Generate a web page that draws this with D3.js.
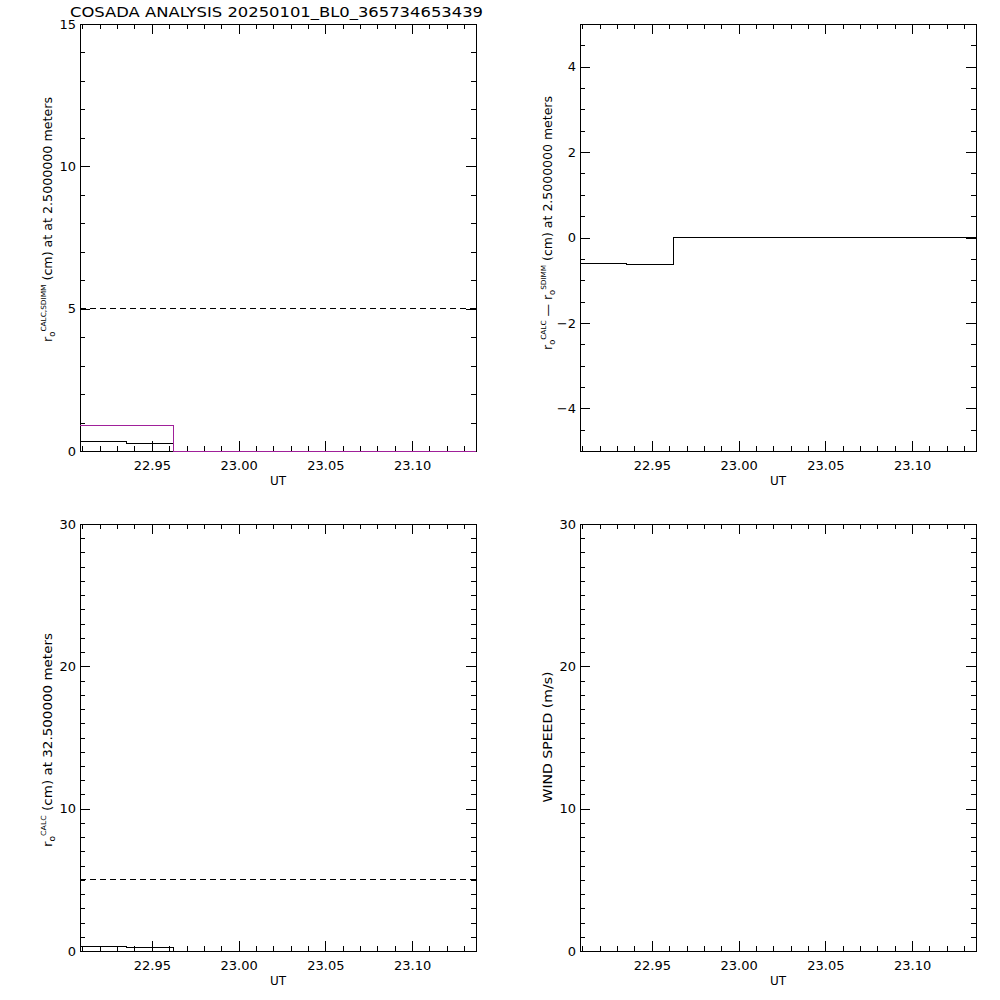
<!DOCTYPE html>
<html><head><meta charset="utf-8">
<script src="https://cdn.jsdelivr.net/npm/d3@7"></script>
<style>
body{margin:0;background:#fff}
text{font-family:"DejaVu Sans",sans-serif;fill:#000}
</style>
</head><body>
<svg id="chart" width="1000" height="1000"></svg>
<script>
// ---------- data ----------
const titleText = "COSADA ANALYSIS 20250101_BL0_365734653439";
const xDomain = [22.9086, 23.1368];
const xMajorTicks = [22.95, 23.00, 23.05, 23.10];
const xMinorStep = 0.01;
const binTimes = [22.9086, 22.9355, 22.9623, 23.1368];
const r0CalcLow  = [0.32, 0.27, 0, 0];     // black, 2.5 m
const r0SdimmLow = [0.90, 0.90, 0, 0];     // purple, SDIMM
const r0Diff     = [-0.62, -0.64, 0, 0];   // CALC - SDIMM
const r0CalcHigh = [0.33, 0.24, 0, 0];     // 32.5 m
const windSpeed  = [];                      // no wind data
const refLineLow = 5;
const refLineHigh = 5;
const yTicksTL = [0, 5, 10, 15];
const yTicksTR = [-4, -2, 0, 2, 4];
const yTicksBL = [0, 10, 20, 30];
const yTicksBR = [0, 10, 20, 30];

// ---------- layout ----------
const W = 396, H = 427;
const svg = d3.select("#chart");
svg.append("rect").attr("width",1000).attr("height",1000).attr("fill","#fff");

svg.append("text").attr("x",70).attr("y",17).attr("font-size",14)
  .attr("textLength",413).attr("lengthAdjust","spacingAndGlyphs").text(titleText);

const panels = [
  {x0:80,  y0:24,  yDom:[0,15],  yMaj:yTicksTL, yMin:1,
   series:[{v:r0CalcLow,c:"#000"},{v:r0SdimmLow,c:"#a0209a"}], ref:refLineLow,
   label:{x:52, y:97, anchor:"end", len:245,
     parts:[["r",0,12],["o",3,8],["CALC,SDIMM",-9,7],[" (cm)  at  at 2.5000000 meters",6,12]]}},
  {x0:580, y0:24,  yDom:[-5,5],  yMaj:yTicksTR, yMin:0.5,
   series:[{v:r0Diff,c:"#000"}], ref:null,
   label:{x:552, y:96, anchor:"end", len:254,
     parts:[["r",0,12],["o",3,8],["CALC",-9,7],["  —  r",6,12],["o",3,8],["SDIMM",-9,7],[" (cm) at 2.5000000 meters",6,12]]}},
  {x0:80,  y0:524, yDom:[0,30],  yMaj:yTicksBL, yMin:1,
   series:[{v:r0CalcHigh,c:"#000"}], ref:refLineHigh,
   label:{x:52, y:740, anchor:"middle", len:214,
     parts:[["r",0,12],["o",3,8],["CALC",-9,7],[" (cm) at 32.500000 meters",6,12]]}},
  {x0:580, y0:524, yDom:[0,30],  yMaj:yTicksBR, yMin:1,
   series:[{v:windSpeed,c:"#000"}], ref:null,
   label:{x:552, y:737, anchor:"middle", len:131,
     parts:[["WIND SPEED (m/s)",0,12]]}}
];

const xMinor = d3.range(Math.ceil(xDomain[0]/xMinorStep), Math.floor(xDomain[1]/xMinorStep)+1)
  .map(k => +(k*xMinorStep).toFixed(2));

panels.forEach(p => {
  const g = svg.append("g").attr("transform",`translate(${p.x0},${p.y0})`);
  const x = d3.scaleLinear().domain(xDomain).range([0,W]);
  const y = d3.scaleLinear().domain(p.yDom).range([H,0]);
  const yMinor = d3.range(Math.ceil(p.yDom[0]/p.yMin), Math.floor(p.yDom[1]/p.yMin)+1)
    .map(k => +(k*p.yMin).toFixed(2));

  const fmtX = d3.format(".2f");
  // bottom
  g.append("g").attr("transform",`translate(0,${H})`)
    .call(d3.axisBottom(x).tickValues(xMinor).tickSize(-5).tickFormat(""));
  g.append("g").attr("transform",`translate(0,${H})`)
    .call(d3.axisBottom(x).tickValues(xMajorTicks).tickSize(-10).tickPadding(10).tickFormat(fmtX));
  // top
  g.append("g").call(d3.axisTop(x).tickValues(xMinor).tickSize(-5).tickFormat(""));
  g.append("g").call(d3.axisTop(x).tickValues(xMajorTicks).tickSize(-10).tickFormat(""));
  // left
  g.append("g").call(d3.axisLeft(y).tickValues(yMinor).tickSize(-5).tickFormat(""));
  g.append("g").call(d3.axisLeft(y).tickValues(p.yMaj).tickSize(-10).tickPadding(4).tickFormat(d3.format("d")));
  // right
  g.append("g").attr("transform",`translate(${W},0)`)
    .call(d3.axisRight(y).tickValues(yMinor).tickSize(-5).tickFormat(""));
  g.append("g").attr("transform",`translate(${W},0)`)
    .call(d3.axisRight(y).tickValues(p.yMaj).tickSize(-10).tickFormat(""));

  g.selectAll(".domain").remove();
  g.selectAll(".tick line").attr("stroke","#000").attr("shape-rendering","crispEdges");
  g.selectAll(".tick text").attr("font-family","DejaVu Sans").attr("font-size",13).attr("fill","#000");

  g.append("rect").attr("x",0.5).attr("y",0.5).attr("width",W).attr("height",H)
    .attr("fill","none").attr("stroke","#000").attr("shape-rendering","crispEdges");

  if (p.ref !== null) {
    g.append("line").attr("x1",0).attr("x2",W).attr("y1",y(p.ref)).attr("y2",y(p.ref))
      .attr("stroke","#000").attr("stroke-dasharray","6,4").attr("shape-rendering","crispEdges");
  }

  p.series.forEach(s => {
    if (!s.v.length) return;
    const line = d3.line().x((d,i)=>x(binTimes[i])).y(d=>y(d)).curve(d3.curveStepAfter);
    g.append("path").attr("d",line(s.v)).attr("fill","none").attr("stroke",s.c)
      .attr("stroke-width",1).attr("shape-rendering","crispEdges");
  });

  // UT label
  g.append("text").attr("x",W/2).attr("y",H+34).attr("text-anchor","middle")
    .attr("font-size",12).text("UT");

  // y label
  const L = p.label;
  const t = svg.append("text")
    .attr("transform",`translate(${L.x},${L.y}) rotate(-90)`)
    .attr("text-anchor",L.anchor).attr("textLength",L.len).attr("lengthAdjust","spacingAndGlyphs");
  L.parts.forEach(([txt,dy,fs]) => {
    t.append("tspan").attr("dy",dy).attr("font-size",fs).text(txt);
  });
});
</script>
</body></html>
